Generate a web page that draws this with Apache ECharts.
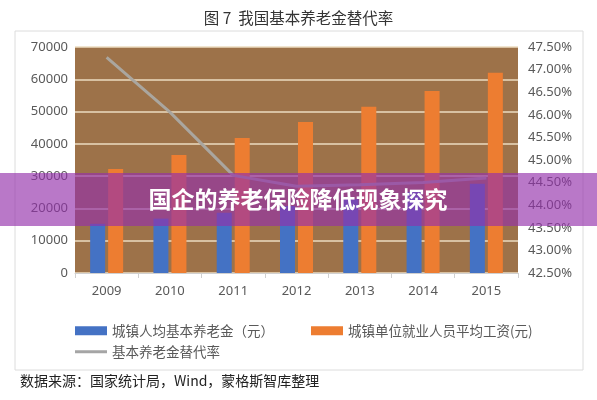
<!DOCTYPE html>
<html>
<head>
<meta charset="utf-8">
<script src="https://cdn.jsdelivr.net/npm/echarts@6/dist/echarts.min.js"></script>
<style>
  html, body { margin: 0; padding: 0; background: #fff; }
  #main { width: 597px; height: 400px; }
</style>
</head>
<body>
<div id="main"></div>
<script>
// 年份
const years = ['2009', '2010', '2011', '2012', '2013', '2014', '2015'];
// 城镇人均基本养老金（元）
const pension = [15230, 16840, 18660, 20770, 22880, 25080, 27660];
// 城镇单位就业人员平均工资（元）
const wage = [32244, 36539, 41799, 46769, 51483, 56360, 62029];
// 基本养老金替代率（%）
const rate = [47.27, 46.06, 44.66, 44.42, 44.45, 44.50, 44.60];

const labelFont = 'Noto Sans, Noto Sans CJK SC, sans-serif';
const cjkFont = 'Noto Sans CJK SC, sans-serif';

const chart = echarts.init(document.getElementById('main'));
chart.setOption({
  animation: false,
  backgroundColor: '#fff',
  title: {
    text: '图 7  我国基本养老金替代率',
    left: 'center',
    top: 5,
    textStyle: { fontFamily: cjkFont, fontSize: 15.5, fontWeight: 'normal', color: '#333' },
  },
  grid: {
    left: 75,
    right: 79,
    top: 47,
    bottom: 127,
    show: true,
    backgroundColor: '#9d7249',
    borderWidth: 0,
  },
  legend: [
    {
      data: ['城镇人均基本养老金（元）', '城镇单位就业人员平均工资(元)'],
      left: 70,
      top: 319,
      icon: 'rect',
      itemWidth: 32,
      itemHeight: 9,
      itemGap: 37,
      textStyle: { fontFamily: cjkFont, fontSize: 13.5, color: '#595959' },
    },
    {
      data: ['基本养老金替代率'],
      left: 70,
      top: 340,
      icon: 'rect',
      itemWidth: 32,
      itemHeight: 3,
      textStyle: { fontFamily: cjkFont, fontSize: 13.5, color: '#595959' },
    },
  ],
  xAxis: {
    type: 'category',
    data: years,
    axisLine: { lineStyle: { color: '#d0d0d0' } },
    axisTick: { show: true, length: 5, lineStyle: { color: '#d0d0d0' } },
    axisLabel: { margin: 12, fontFamily: labelFont, fontSize: 13, color: '#595959' },
  },
  yAxis: [
    {
      type: 'value',
      min: 0,
      max: 70000,
      interval: 10000,
      axisLine: { show: false },
      axisTick: { show: false },
      axisLabel: {
        margin: 7,
        fontFamily: labelFont,
        fontSize: 13,
        color: '#595959',
        formatter: v => String(v),
      },
      splitLine: { lineStyle: { color: '#ecdcc0', width: 1.5 } },
    },
    {
      type: 'value',
      min: 42.5,
      max: 47.5,
      interval: 0.5,
      axisLine: { show: false },
      axisTick: { show: false },
      splitLine: { show: false },
      axisLabel: {
        margin: 10,
        fontFamily: labelFont,
        fontSize: 13,
        color: '#595959',
        formatter: v => v.toFixed(2) + '%',
      },
    },
  ],
  series: [
    {
      name: '城镇人均基本养老金（元）',
      type: 'bar',
      data: pension,
      barWidth: 15,
      barGap: '20%',
      itemStyle: { color: '#4472c4' },
    },
    {
      name: '城镇单位就业人员平均工资(元)',
      type: 'bar',
      data: wage,
      barWidth: 15,
      itemStyle: { color: '#ed7d31' },
    },
    {
      name: '基本养老金替代率',
      type: 'line',
      yAxisIndex: 1,
      data: rate,
      symbol: 'none',
      lineStyle: { color: '#aaa69f', width: 3 },
      itemStyle: { color: '#a5a5a5' },
    },
  ],
  graphic: [
    {
      type: 'rect',
      shape: { x: 15, y: 31, width: 568, height: 339 },
      style: { fill: 'none', stroke: '#dcdcdc', lineWidth: 1 },
      z: -1,
    },
    {
      type: 'text',
      left: 20,
      top: 374,
      style: {
        text: '数据来源：国家统计局，Wind，蒙格斯智库整理',
        fontFamily: cjkFont,
        fontSize: 14,
        fill: '#222',
      },
    },
    {
      type: 'rect',
      shape: { x: 0, y: 173, width: 597, height: 53 },
      style: { fill: 'rgba(148,48,171,0.65)' },
      z: 100,
    },
    {
      type: 'text',
      x: 298,
      y: 199,
      z: 101,
      style: {
        text: '国企的养老保险降低现象探究',
        fontFamily: cjkFont,
        fontSize: 23,
        fontWeight: 'bold',
        fill: '#fff',
        align: 'center',
        verticalAlign: 'middle',
        shadowColor: 'rgba(0,0,0,0.25)',
        shadowBlur: 2,
      },
    },
  ],
});
</script>
</body>
</html>
